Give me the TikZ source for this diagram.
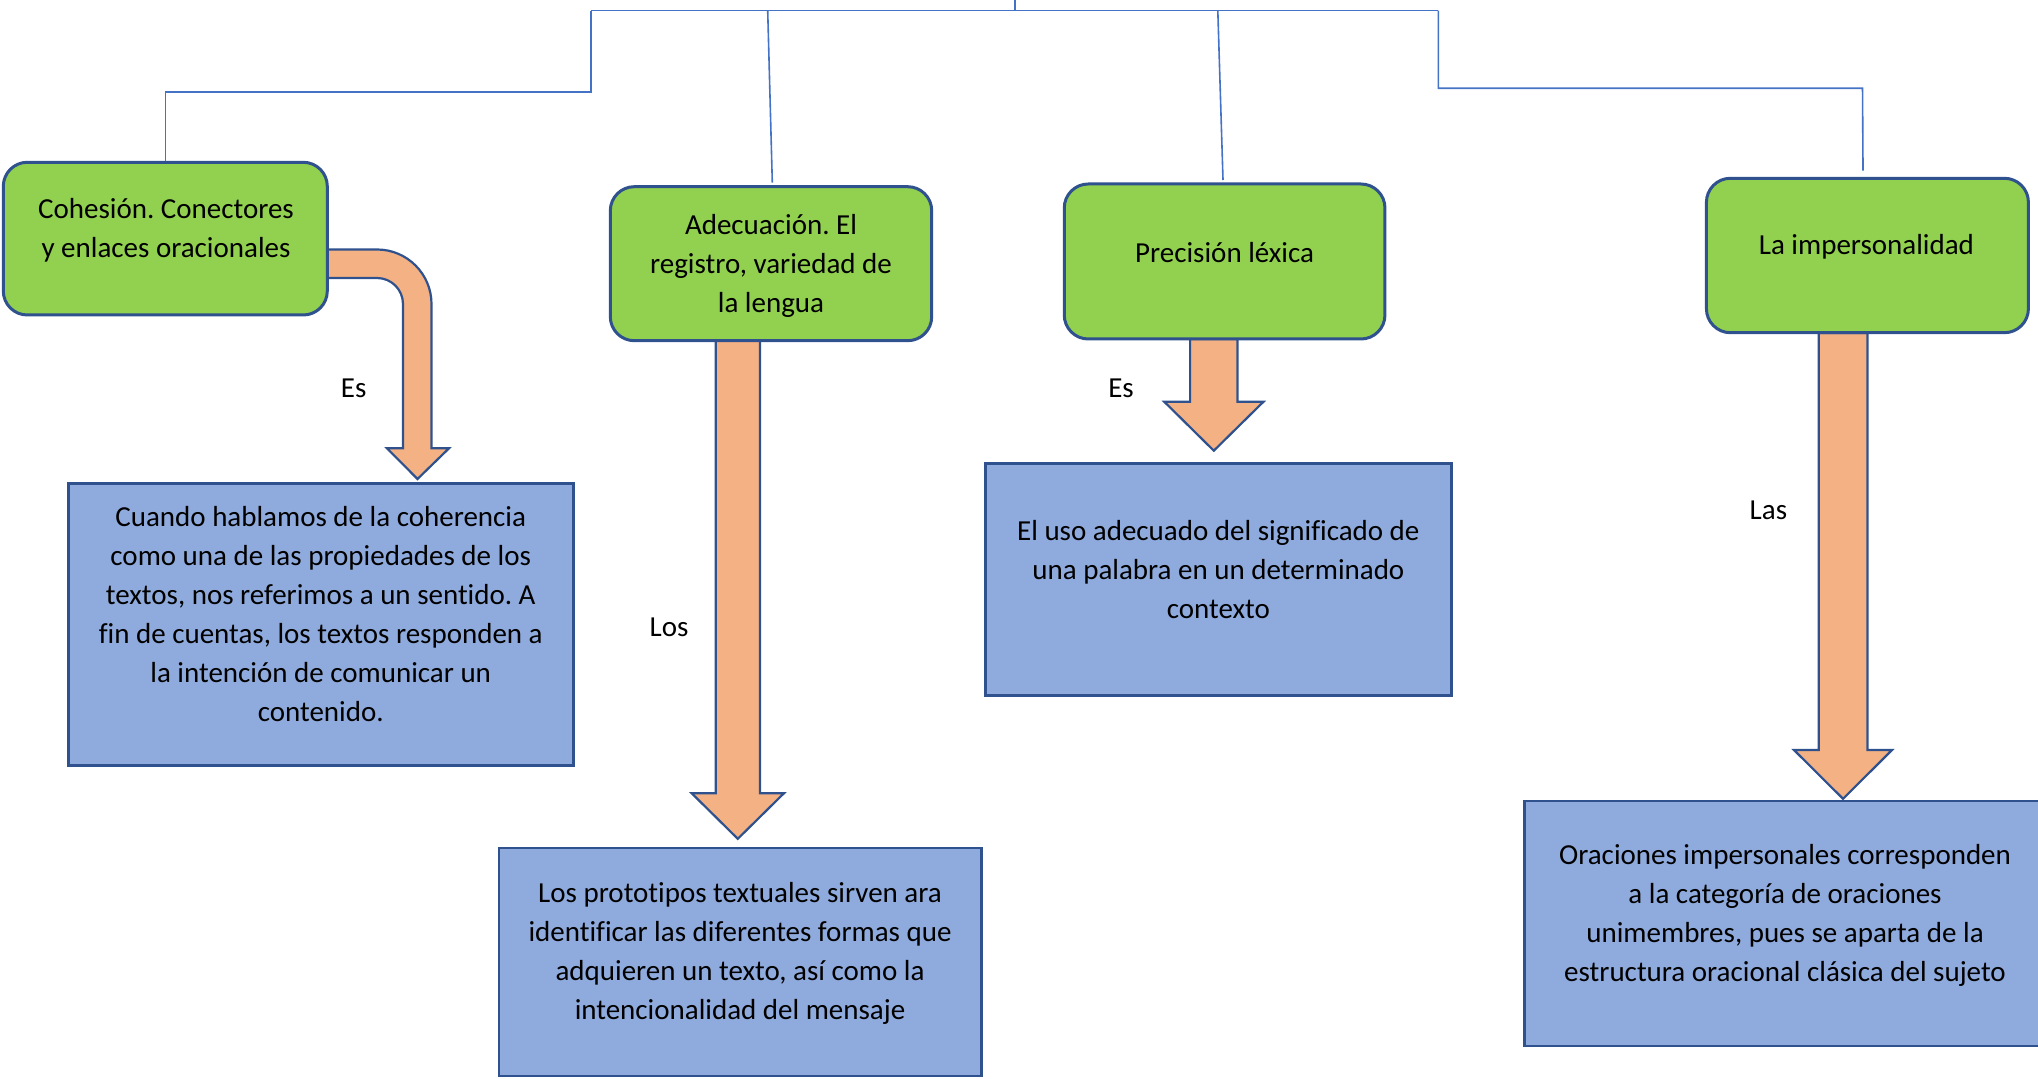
\documentclass[tikz,border=0pt]{standalone}
\usepackage{fontspec}
\setmainfont[Ligatures={NoCommon}]{Carlito}
\frenchspacing
\definecolor{greenc}{HTML}{92D050}
\definecolor{bluec}{HTML}{8FAADC}
\definecolor{orangec}{HTML}{F4B183}
\definecolor{bordc}{HTML}{2F528F}
\definecolor{linkc}{HTML}{4472C4}
\begin{document}
\begin{tikzpicture}[x=0.5pt,y=-0.5pt,
  greenbox/.style={draw=bordc, line width=1.5pt, fill=greenc, rounded corners=12pt, inner sep=0pt},
  bluebox/.style={draw=bordc, line width=1.4pt, fill=bluec, inner sep=0pt},
  txt/.style={align=center, font=\frenchspacing\fontsize{14.5pt}{19.5pt}\selectfont, inner sep=0pt},
  blockarrow/.style={draw=bordc, line width=1.1pt, fill=orangec, line join=miter},
  link/.style={draw=linkc, line width=0.8pt}]
\useasboundingbox (0,0) rectangle (2038,1079);
\clip (0,0) rectangle (2038,1079);

% connectors
\coordinate (top) at (1015,0);
\coordinate (tj) at (1015,10.7);
\coordinate (hl) at (590.8,10.7);
\coordinate (hr) at (1438.3,10.7);
\coordinate (lk) at (590.8,92.3);
\coordinate (a2s) at (767.7,10.7);
\coordinate (a2e) at (772.3,182.7);
\coordinate (a3s) at (1217.8,10.7);
\coordinate (a3e) at (1223,180);
\coordinate (rk1) at (1438.3,88.3);
\coordinate (rk2) at (1862.5,88.3);
\coordinate (rk3) at (1863,170.7);

% block arrows
\draw[blockarrow] (327.3,249.5) -- (377,249.5) arc[start angle=90,end angle=0,radius=27.25pt]
  -- (431.5,448.3) -- (449,448.3) -- (417.5,479) -- (387,448.3) -- (403,448.3)
  -- (403,304) arc[start angle=0,end angle=90,radius=13pt] -- (327.3,278) -- cycle;
\draw[blockarrow] (715.7,340.7) -- (760,340.7) -- (760,793.2) -- (784,793.2) -- (737.8,838.8)
  -- (691.6,793.2) -- (715.7,793.2) -- cycle;
\draw[blockarrow] (1190.1,339) -- (1237.5,339) -- (1237.5,401.7) -- (1263.5,401.7) -- (1213.8,450.7)
  -- (1164.2,401.7) -- (1190.1,401.7) -- cycle;
\draw[blockarrow] (1818.7,333) -- (1867.4,333) -- (1867.4,750) -- (1892,750) -- (1843,798.8)
  -- (1794,750) -- (1818.7,750) -- cycle;

% green boxes
\node[greenbox, minimum width=162pt, minimum height=76.35pt] (g1) at (165.3,238.65) {};
\node[greenbox, minimum width=160.7pt, minimum height=77pt] (g2) at (771,263.7) {};
\node[greenbox, minimum width=160.35pt, minimum height=77.5pt] (g3) at (1224.6,261.5) {};
\node[greenbox, minimum width=161pt, minimum height=77.2pt] (g4) at (1867.4,255.5) {};

% blue boxes
\node[bluebox, minimum width=252.45pt, minimum height=141.2pt] (b1) at (320.75,624.4) {};
\node[bluebox, minimum width=241.05pt, minimum height=114pt] (b2) at (740.05,962) {};
\node[bluebox, minimum width=232.85pt, minimum height=116pt] (b3) at (1218.35,579.2) {};
\node[bluebox, minimum width=260.75pt, minimum height=122.5pt] (b4) at (1785.25,923.5) {};

% thin connector lines
\draw[link] (top) -- (tj);
\draw[link] (hl) -- (hr);
\draw[link] (hl) -- (lk) -| (g1.north);
\draw[link] (a2s) -- (a2e);
\draw[link] (a3s) -- (a3e);
\draw[link] (hr) -- (rk1) -- (rk2) -- (rk3);

% texts
\node[txt] (g1t) at (166,230.5) {Cohesión. Conectores\\y enlaces oracionales};
\node[txt] (g2t) at (771,265.5) {Adecuación. El\\registro, variedad de\\la lengua};
\node[txt] (g3t) at (1224.6,252.5) {Precisión léxica};
\node[txt] (g4t) at (1866.4,247) {La impersonalidad};
\node[txt] (b1t) at (320.75,614.5) {Cuando hablamos de la coherencia\\como una de las propiedades de los\\textos, nos referimos a un sentido. A\\fin de cuentas, los textos responden a\\la intención de comunicar un\\contenido.};
\node[txt] (b2t) at (740.05,953) {Los prototipos textuales sirven ara\\identificar las diferentes formas que\\adquieren un texto, así como la\\intencionalidad del mensaje};
\node[txt] (b3t) at (1218.35,569.5) {El uso adecuado del significado de\\una palabra en un determinado\\contexto};
\node[txt] (b4t) at (1785,915) {Oraciones impersonales corresponden\\a la categoría de oraciones\\unimembres, pues se aparta de la\\estructura oracional clásica del sujeto};

% arrow labels
\node[txt] (l1) at (353.6,388) {Es};
\node[txt] (l2) at (669,627) {Los};
\node[txt] (l3) at (1121,388) {Es};
\node[txt] (l4) at (1768.4,510) {Las};
\end{tikzpicture}
\end{document}
